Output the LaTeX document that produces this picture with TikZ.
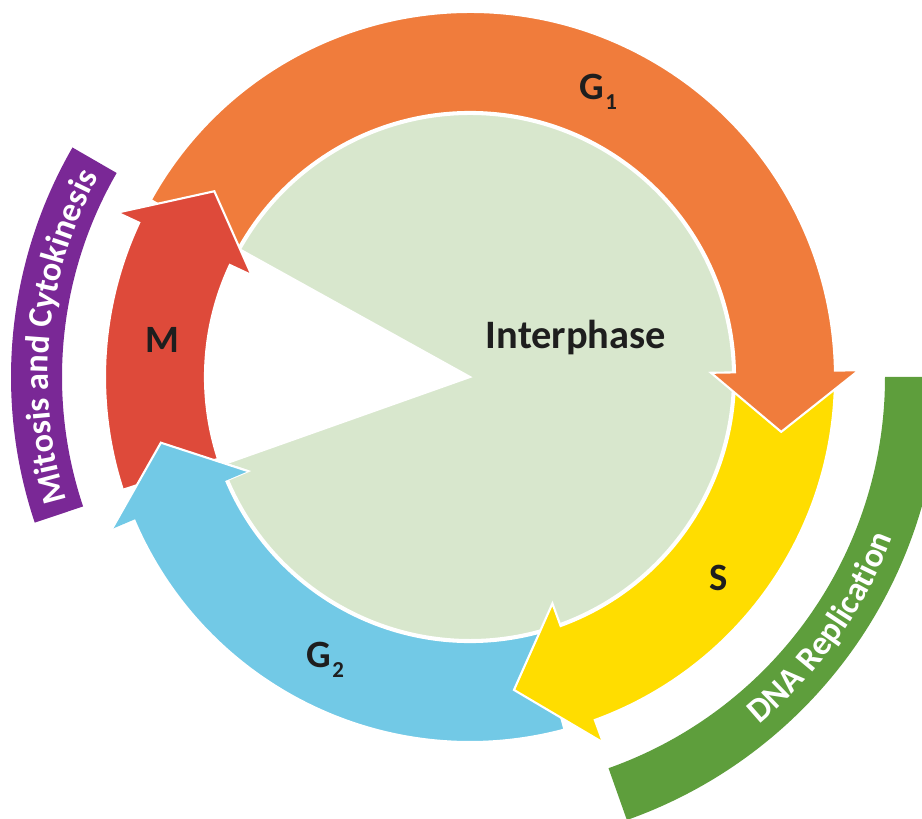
\documentclass[tikz,border=0pt]{standalone}
\usepackage{fontspec}
\setmainfont{Carlito}
\usepackage{xcolor}
\usetikzlibrary{decorations.text}
\definecolor{gone}{RGB}{240,124,60}
\definecolor{mphase}{RGB}{222,74,58}
\definecolor{sphase}{RGB}{255,221,0}
\definecolor{gtwo}{RGB}{114,201,230}
\definecolor{interph}{RGB}{216,231,205}
\definecolor{dnaband}{RGB}{94,158,60}
\definecolor{mitband}{RGB}{122,40,150}
\definecolor{labtext}{RGB}{30,30,30}

%% arrow along the ring: start angle, head base angle, tip angle, colour
\newcommand{\phasearrow}[4]{%
  \filldraw[fill=#4, draw=white, line width=1.2pt, line join=miter]
    (#1:365) arc[start angle=#1, end angle=#2, radius=365]
    -- (#2:389) -- (#3:316) -- (#2:241) -- (#2:265)
    arc[start angle=#2, end angle=#1, radius=265] -- cycle;}
\newcommand{\bandfont}{\color{white}\bfseries\fontsize{19.5}{19.5}\selectfont}
\newcommand{\lowsub}[1]{\kern1pt\raisebox{-0.55ex}{\fontsize{13}{13}\selectfont #1}}

\begin{document}
\begin{tikzpicture}[scale=0.02,
  phase/.style={font=\bfseries\fontsize{22}{22}\selectfont, text=labtext}
]
\clip (-470,-442) rectangle (452,377);

%% Interphase disc with the M wedge cut out
\filldraw[fill=interph, draw=white, line width=1.2pt]
  (0,0) -- (199.5:263) arc[start angle=199.5, end angle=511, radius=263] -- cycle;

%% Phase arrows
\phasearrow{-75}{-157}{-168}{gtwo}
\phasearrow{-0.5}{-70}{-82}{sphase}
\phasearrow{151}{1}{-10}{gone}
\phasearrow{-162}{-205}{-216}{mphase}

%% G2 head lies over the M tail
\fill[gtwo] (-157:389) -- (-168:316) -- (-157:241) -- cycle;
\draw[white, line width=1.2pt, line join=miter] (-157:389) -- (-168:316) -- (-157:241);

%% Outer bands
\fill[dnaband] (-70.5:415) arc[start angle=-70.5, end angle=0, radius=415]
  -- (0:470) arc[start angle=0, end angle=-70.5, radius=470] -- cycle;
\fill[mitband] (150:408) arc[start angle=150, end angle=198.5, radius=408]
  -- (198.5:459) arc[start angle=198.5, end angle=150, radius=459] -- cycle;

\path[decorate, decoration={text along path, text align=center,
  text={|\bandfont|DNA Replication}}]
  (-57:452) arc[start angle=-57, end angle=-14, radius=452];
\path[decorate, decoration={text along path, text align=center,
  text={|\bandfont|Mitosis and Cytokinesis}}]
  (198:422) arc[start angle=198, end angle=150.6, radius=422];

%% Labels
\node[phase, font=\bfseries\fontsize{23}{23}\selectfont] (interphase) at (106,39) {Interphase};
\node[phase] (g1) at (128,285) {G\lowsub{1}};
\node[phase] (s) at (249,-201) {S};
\node[phase] (g2) at (-145,-283) {G\lowsub{2}};
\node[phase] (m) at (-308,37) {M};

\end{tikzpicture}
\end{document}
